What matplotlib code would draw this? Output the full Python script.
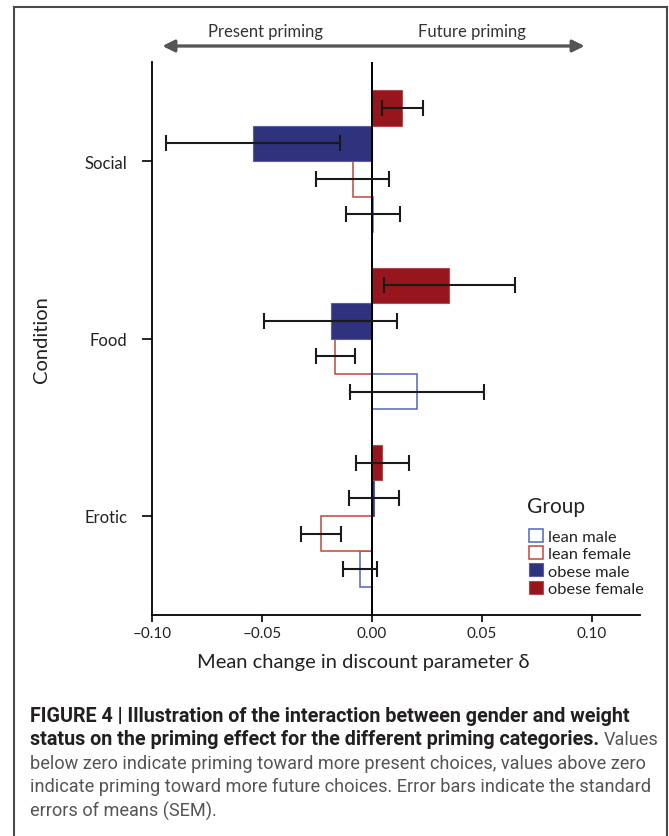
import matplotlib
matplotlib.use('Agg')
import matplotlib.pyplot as plt
from matplotlib.patches import Patch
from matplotlib.lines import Line2D
import numpy as np

# values (mean change in delta, SEM)
conditions = ['Erotic', 'Food', 'Social']
groups = ['lean male', 'lean female', 'obese male', 'obese female']
lean_male = [-0.0056, 0.0206, 0.0006]
lean_male_err = [0.0078, 0.0305, 0.0122]
lean_female = [-0.0233, -0.0167, -0.0088]
lean_female_err = [0.0090, 0.0088, 0.0165]
obese_male = [0.0009, -0.0188, -0.0540]
obese_male_err = [0.0112, 0.0303, 0.0396]
obese_female = [0.0047, 0.0352, 0.0138]
obese_female_err = [0.0120, 0.0299, 0.0093]
xticks = [-0.10, -0.05, 0.0, 0.05, 0.10]

W, H = 669, 837
FONT = 'Lato'
CAP_FONT = 'Roboto'


def fx(px):
    return px / W


def fy(py):
    return 1 - py / H


fig = plt.figure(figsize=(W / 100, H / 100), dpi=100)
fig.patch.set_facecolor('white')
ax = fig.add_axes([fx(152), fy(616), fx(640) - fx(152), fy(63) - fy(616)])

y = np.arange(len(conditions))
bar_h = 0.2
# top to bottom inside each category: obese female, obese male, lean female, lean male
styles = [
    (lean_male, lean_male_err, -0.3, dict(facecolor='white', edgecolor='#5264BD', linewidth=1.1)),
    (lean_female, lean_female_err, -0.1, dict(facecolor='white', edgecolor='#C2473B', linewidth=1.1)),
    (obese_male, obese_male_err, 0.1, dict(facecolor='#2F327C', edgecolor='#5A5DA6', linewidth=0.8)),
    (obese_female, obese_female_err, 0.3, dict(facecolor='#97161D', edgecolor='#B04A4E', linewidth=0.8)),
]
handles = []
for (vals, errs, off, st), name in zip(styles, groups):
    ax.barh(y + off, vals, height=bar_h, zorder=2, **st)
    ax.errorbar(vals, y + off, xerr=errs, fmt='none', ecolor='#1a1a1a',
                elinewidth=1.5, capsize=5.5, capthick=1.5, zorder=4)
    handles.append(Patch(label=name, **st))

ax.axvline(0, color='black', linewidth=1.4, zorder=3)

ax.set_xlim(-0.10, 0.1218)
ax.set_ylim(-0.558, 2.558)
ax.set_xticks(xticks)
ax.set_xticklabels([f'{t:.2f}'.replace('-', '\u2013') for t in xticks],
                   fontname=FONT, fontsize=11, color='#222222')
ax.set_yticks(y)
ax.set_yticklabels(conditions, fontname=FONT, fontsize=12, color='#222222')
ax.tick_params(axis='x', length=5, width=1.2, pad=3)
ax.tick_params(axis='y', length=7, width=1.2, pad=11)
for s in ['top', 'right']:
    ax.spines[s].set_visible(False)
for s in ['left', 'bottom']:
    ax.spines[s].set_linewidth(1.3)

ax.set_xlabel('Mean change in discount parameter \u03b4', fontname=FONT, fontsize=14.5, color='#222222')
ax.xaxis.set_label_coords((363 - 152) / 488, -(663 - 616) / 553)
ax.xaxis.label.set_va('center')
ax.set_ylabel('Condition', fontname=FONT, fontsize=14.5, color='#222222')
ax.yaxis.set_label_coords((42 - 152) / 488, 0.5)
ax.yaxis.label.set_va('center')

fig.text(fx(527), fy(507), 'Group', fontname=FONT, fontsize=15, color='#222222',
         ha='left', va='center')
leg = fig.legend(handles=handles, loc='upper left', bbox_to_anchor=(fx(529), fy(530)),
                 frameon=False, borderpad=0,
                 handlelength=0.85, handleheight=0.85, handletextpad=0.3,
                 labelspacing=0.12, borderaxespad=0,
                 prop={'family': FONT, 'size': 11.8})
for t in leg.get_texts():
    t.set_color('#222222')

# direction arrow above the plot
fig.add_artist(plt.annotate('', xy=(fx(160), fy(47)), xytext=(fx(587), fy(47)),
                            xycoords='figure fraction', textcoords='figure fraction',
                            arrowprops=dict(arrowstyle='<|-|>', color='#555555', lw=2,
                                            mutation_scale=18)))
fig.text(fx(265), fy(32), 'Present priming', fontname=FONT, fontsize=12,
         ha='center', va='center', color='#333333')
fig.text(fx(472), fy(32), 'Future priming', fontname=FONT, fontsize=12,
         ha='center', va='center', color='#333333')

# frame around the figure panel
frame_kw = dict(color='#4a4a4a', linewidth=1.5, transform=fig.transFigure)
fig.add_artist(Line2D([fx(14), fx(14)], [fy(8), 0], **frame_kw))
fig.add_artist(Line2D([fx(14), fx(667)], [fy(8), fy(8)], **frame_kw))
fig.add_artist(Line2D([fx(667), fx(667)], [fy(8), 0], **frame_kw))

# caption
renderer = fig.canvas.get_renderer()
bold_kw = dict(fontname=CAP_FONT, fontweight='bold', color='#231f20', va='center', ha='left')
reg_kw = dict(fontname=CAP_FONT, fontweight='normal', color='#555555', va='center', ha='left')
x0 = fx(30)
line_y = [716, 740, 764, 787, 811]

t1 = fig.text(x0, fy(line_y[0]), 'FIGURE 4 | Illustration of the interaction between gender and weight',
              fontsize=12, **bold_kw)
w = t1.get_window_extent(renderer).width
bold_size = 12 * 600 / w
t1.set_fontsize(bold_size)

t4 = fig.text(x0, fy(line_y[3]), 'indicate priming toward more future choices. Error bars indicate the standard',
              fontsize=12, **reg_kw)
w = t4.get_window_extent(renderer).width
reg_size = 12 * 616 / w
t4.set_fontsize(reg_size)

t2 = fig.text(x0, fy(line_y[1]), 'status on the priming effect for the different priming categories.',
              fontsize=bold_size, **bold_kw)
ext = t2.get_window_extent(renderer)
fig.text(fx(ext.x1 + 5), fy(line_y[1]), 'Values', fontsize=reg_size, **reg_kw)
fig.text(x0, fy(line_y[2]), 'below zero indicate priming toward more present choices, values above zero',
         fontsize=reg_size, **reg_kw)
fig.text(x0, fy(line_y[4]), 'errors of means (SEM).', fontsize=reg_size, **reg_kw)

fig.savefig('out.png', dpi=100, facecolor='white')
